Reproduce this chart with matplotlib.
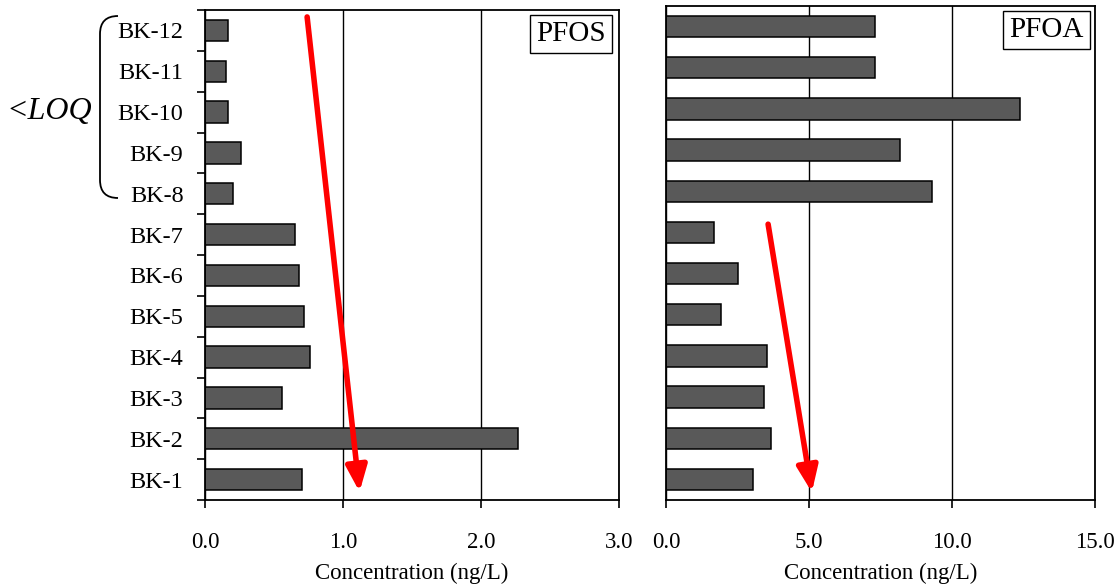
import matplotlib
matplotlib.use("Agg")
from matplotlib import pyplot as plt
from matplotlib.path import Path
from matplotlib.patches import PathPatch

plt.rcParams['font.family'] = ['Liberation Serif', 'DejaVu Serif']

# samples, bottom to top
samples = ["BK-1", "BK-2", "BK-3", "BK-4", "BK-5", "BK-6",
           "BK-7", "BK-8", "BK-9", "BK-10", "BK-11", "BK-12"]
pfos = [0.70, 2.27, 0.56, 0.76, 0.72, 0.68, 0.65, 0.20, 0.26, 0.17, 0.15, 0.17]
pfoa = [3.04, 3.67, 3.43, 3.53, 1.92, 2.52, 1.68, 9.30, 8.18, 12.38, 7.31, 7.31]
pfos_ticks = [0.0, 1.0, 2.0, 3.0]
pfoa_ticks = [0.0, 5.0, 10.0, 15.0]

W, H = 1119, 586
fig = plt.figure(figsize=(W / 100, H / 100), dpi=100)
axL = fig.add_axes([205 / W, 1 - 500 / H, 414 / W, 490 / H])
axR = fig.add_axes([666 / W, 1 - 500 / H, 429 / W, 494 / H])

ypos = list(range(len(samples)))


def style(ax, vals, ticks, name, ylabels, box_off):
    ax.set_axisbelow(True)
    ax.barh(ypos, vals, height=0.52, color="#595959", edgecolor="black", linewidth=1.1)
    ax.set_xlim(ticks[0], ticks[-1])
    ax.set_ylim(-0.5, len(samples) - 0.5)
    ax.set_xticks(ticks)
    ax.set_xticklabels(["%.1f" % t for t in ticks], fontsize=16.5)
    ax.xaxis.grid(True, color="black", linewidth=1.0)
    ax.tick_params(axis="x", direction="out", length=6, width=1.2, pad=17)
    for s in ax.spines.values():
        s.set_linewidth(1.3)
    if ylabels:
        ax.set_yticks([y + 0.5 for y in [-1] + ypos], minor=False)
        ax.set_yticklabels([])
        ax.set_yticks(ypos, minor=True)
        ax.set_yticklabels(samples, minor=True, fontsize=17.5)
        ax.tick_params(axis="y", which="major", direction="out", length=6, width=1.2)
        ax.tick_params(axis="y", which="minor", length=0, pad=15.5)
    else:
        ax.set_yticks([])
    ax.set_xlabel("Concentration (ng/L)", fontsize=16.5, labelpad=7)
    # label box a few pixels inside the top right corner
    ax.annotate(name, xy=(1, 1), xycoords="axes fraction", xytext=box_off,
                textcoords="offset pixels", ha="right", va="top", fontsize=21,
                bbox=dict(boxstyle="square,pad=0.22", fc="white", ec="black", lw=1.0))


style(axL, pfos, pfos_ticks, "PFOS", True, (-13, -11))
style(axR, pfoa, pfoa_ticks, "PFOA", False, (-11, -11))

arrow = dict(arrowstyle="-|>,head_length=1.1,head_width=0.45", color="red",
             lw=4, mutation_scale=14, shrinkA=0, shrinkB=0)
axL.annotate("", xy=(1.12, -0.30), xytext=(0.74, 11.33), arrowprops=arrow)
axR.annotate("", xy=(5.10, -0.31), xytext=(3.57, 6.20), arrowprops=arrow)

# brace for the <LOQ group
def fx(px):
    return px / W


def fy(py):
    return 1 - py / H


verts = [(fx(118), fy(16)), (fx(100), fy(16)), (fx(100), fy(34)),
         (fx(100), fy(180)),
         (fx(100), fy(198)), (fx(118), fy(198))]
codes = [Path.MOVETO, Path.CURVE3, Path.CURVE3, Path.LINETO, Path.CURVE3, Path.CURVE3]
fig.patches.append(PathPatch(Path(verts, codes), transform=fig.transFigure,
                             fill=False, lw=1.3, color="black"))
fig.text(fx(49), fy(112), "<LOQ", fontsize=23, style="italic", ha="center", va="center")

fig.savefig("out.png", dpi=100)
